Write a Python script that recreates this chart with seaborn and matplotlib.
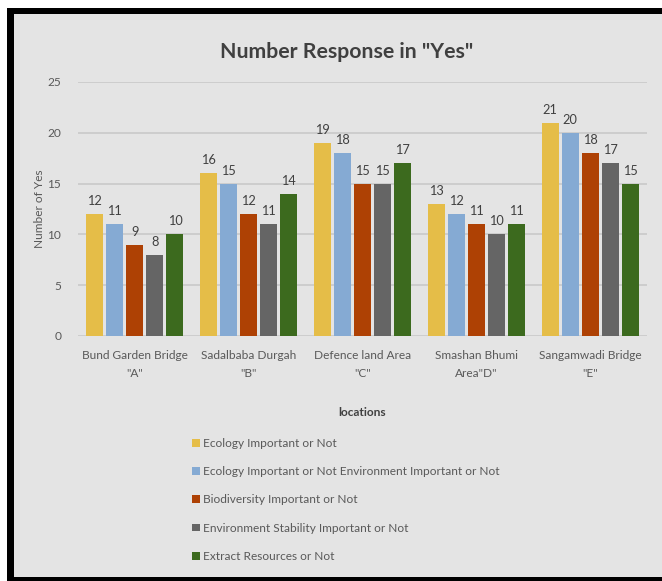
import matplotlib
matplotlib.use("Agg")
import matplotlib.pyplot as plt
from matplotlib.patches import Rectangle
import seaborn as sns
import pandas as pd

locations = ['Bund Garden Bridge\n"A"', 'Sadalbaba Durgah\n"B"', 'Defence land Area\n"C"',
             'Smashan Bhumi\nArea"D"', 'Sangamwadi Bridge\n"E"']
series = ["Ecology Important or Not",
          "Ecology Important or Not Environment Important or Not",
          "Biodiversity Important or Not",
          "Environment Stability Important or Not",
          "Extract Resources or Not"]
ecology = [12, 16, 19, 13, 21]
ecology_env = [11, 15, 18, 12, 20]
biodiversity = [9, 12, 15, 11, 18]
env_stability = [8, 11, 15, 10, 17]
extract = [10, 14, 17, 11, 15]
colors = ["#E5BD48", "#85AAD3", "#AE4104", "#656565", "#3C6A1E"]

rows = []
for s, vals in zip(series, [ecology, ecology_env, biodiversity, env_stability, extract]):
    for loc, v in zip(locations, vals):
        rows.append({"location": loc, "series": s, "value": v})
df = pd.DataFrame(rows)

sns.set_theme(style="white")
plt.rcParams['font.family'] = ['Lato', 'DejaVu Sans']
text_col = "#404040"
fs = 8.6

W, H = 662, 581
fig = plt.figure(figsize=(W / 100, H / 100), dpi=100, facecolor="white")
# black frame and gray background
fig.patches.append(Rectangle((7 / W, 0), 1.0, 1 - 8 / H, transform=fig.transFigure,
                             facecolor="black", edgecolor="none", zorder=-3))
fig.patches.append(Rectangle((14 / W, 4 / H), 1.0, 1 - 18 / H, transform=fig.transFigure,
                             facecolor="#E4E4E4", edgecolor="none", zorder=-2))

ax = fig.add_axes([78 / W, 1 - 336 / H, (647 - 78) / W, (336 - 82) / H])
ax.set_facecolor("none")
sns.barplot(data=df, x="location", y="value", hue="series", palette=colors,
            width=0.88, gap=0.15, ax=ax, saturation=1, edgecolor="none")
ax.set_ylim(0, 25)
ax.set_yticks([0, 5, 10, 15, 20, 25])
ax.yaxis.grid(True, color="#C9C9C9", linewidth=1.2)
ax.set_axisbelow(True)
for sp in ax.spines.values():
    sp.set_visible(False)
ax.tick_params(axis="both", length=0, colors="#595959", labelsize=fs)
ax.tick_params(axis="y", pad=12)
ax.tick_params(axis="x", pad=10)
for lbl in ax.get_xticklabels():
    lbl.set_linespacing(1.75)
ax.set_xlabel("")
ax.set_ylabel("Number of Yes", fontsize=fs, color="#595959", labelpad=2)

for cont in ax.containers:
    ax.bar_label(cont, padding=5, fontsize=9.2, color=text_col)

handles, labels = ax.get_legend_handles_labels()
ax.get_legend().remove()
fig.legend(handles, labels, loc="upper left", bbox_to_anchor=(181 / W, 1 - 427 / H),
           frameon=False, fontsize=fs, labelspacing=1.45, handlelength=0.65,
           handleheight=0.65, handletextpad=0.3, labelcolor="#595959")

fig.text(347 / W, 1 - 52 / H, 'Number Response in "Yes"', ha="center", va="center",
         fontsize=15.3, fontweight="bold", color=text_col)
fig.text(362 / W, 1 - 413 / H, "locations", ha="center", va="center",
         fontsize=fs, fontweight="bold", color=text_col)

fig.savefig("out.png", dpi=100, facecolor="white")
